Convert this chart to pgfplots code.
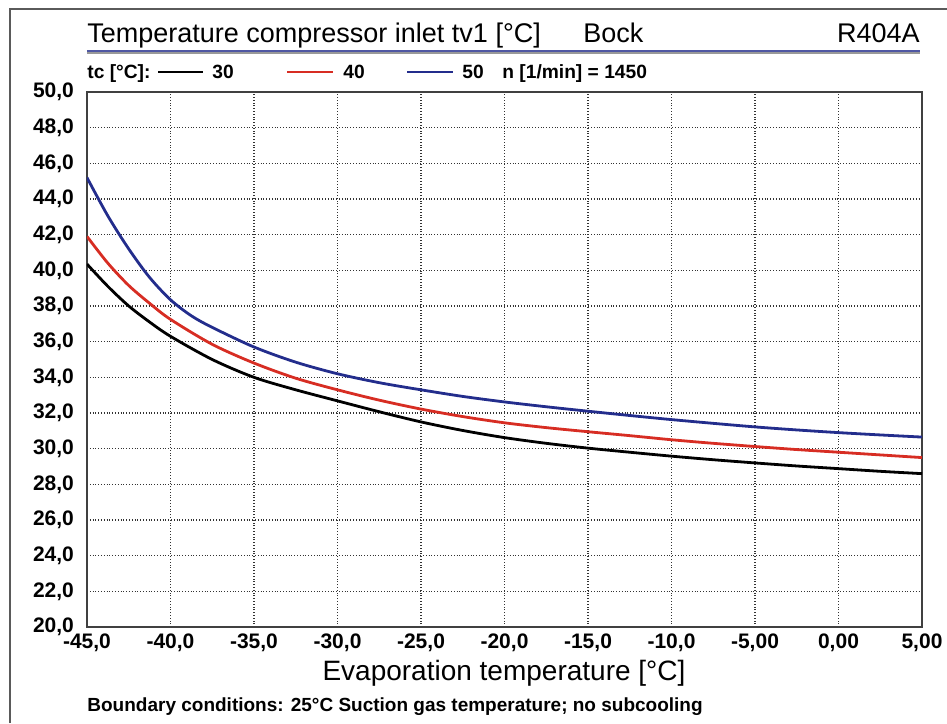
\documentclass[border=0pt]{standalone}
\usepackage{fontspec}
\setmainfont{Liberation Sans}
\usepackage{pgfplots}
\pgfplotsset{compat=1.18}

\definecolor{cred}{RGB}{215,45,35}
\definecolor{cblue}{RGB}{35,45,140}
\definecolor{frame}{RGB}{90,90,90}

\begin{document}
\begin{tikzpicture}[x=1pt,y=1pt]
\path[use as bounding box] (-43.5,-48) rectangle (430,313.5);
% outer frame (left and top only visible)
\draw[frame, line width=1.4pt] (-38.5,-48) -- (-38.5,309) -- (430,309);

\begin{axis}[
  at={(0,0)}, anchor=south west, scale only axis,
  width=417.5pt, height=267.5pt,
  xmin=-45, xmax=5, ymin=20, ymax=50,
  xtick={-45,-40,...,5}, ytick={20,22,...,50},
  xticklabels={{-45,0},{-40,0},{-35,0},{-30,0},{-25,0},{-20,0},{-15,0},{-10,0},{-5,00},{0,00},{5,00}},
  yticklabels={{20,0},{22,0},{24,0},{26,0},{28,0},{30,0},{32,0},{34,0},{36,0},{38,0},{40,0},{42,0},{44,0},{46,0},{48,0},{50,0}},
  grid=major, grid style={densely dotted, black!80, line width=0.6pt},
  axis line style={black!75, line width=0.9pt},
  major tick length=0pt,
  tick label style={font=\fontsize{10.5}{12}\selectfont\bfseries},
  yticklabel style={xshift=-3pt},
]
% tc = 30
\addplot[black, line width=1.4pt, smooth] coordinates {
  (-45,40.35) (-43.75,39.1) (-42.5,38.0) (-41.25,37.1) (-40,36.3) (-37.5,35.0) (-35,34.0) (-32.5,33.3)
  (-30,32.68) (-27.5,32.07) (-25,31.5) (-22.5,31.02) (-20,30.62) (-17.5,30.3) (-15,30.03)
  (-12.5,29.8) (-10,29.58) (-7.5,29.38) (-5,29.2) (-2.5,29.03) (0,28.88) (2.5,28.73) (5,28.6)};
% tc = 40
\addplot[cred, line width=1.4pt, smooth] coordinates {
  (-45,41.9) (-43.75,40.4) (-42.5,39.15) (-41.25,38.15) (-40,37.25) (-37.5,35.85) (-35,34.8) (-32.5,33.95)
  (-30,33.3) (-27.5,32.72) (-25,32.22) (-22.5,31.8) (-20,31.45) (-17.5,31.18) (-15,30.95)
  (-12.5,30.73) (-10,30.5) (-7.5,30.3) (-5,30.12) (-2.5,29.95) (0,29.8) (2.5,29.65) (5,29.5)};
% tc = 50
\addplot[cblue, line width=1.4pt, smooth] coordinates {
  (-45,45.2) (-43.75,43.05) (-42.5,41.2) (-41.25,39.6) (-40,38.35) (-38.75,37.45) (-37.5,36.8) (-35,35.7) (-32.5,34.85)
  (-30,34.2) (-27.5,33.7) (-25,33.3) (-22.5,32.93) (-20,32.62) (-17.5,32.35) (-15,32.1)
  (-12.5,31.86) (-10,31.63) (-7.5,31.42) (-5,31.22) (-2.5,31.05) (0,30.9) (2.5,30.77) (5,30.65)};
\end{axis}

% title
\node[anchor=base west, inner sep=0, font=\fontsize{13.5}{15}\selectfont] at (0,292) {Temperature compressor inlet tv1 [°C]};
\node[anchor=base west, inner sep=0, font=\fontsize{13.5}{15}\selectfont] at (248,292) {Bock};
\node[anchor=base east, inner sep=0, font=\fontsize{13.5}{15}\selectfont] at (416.5,292) {R404A};
\draw[cblue!80, line width=0.7pt] (0,288) -- (416.5,288);
\draw[black!40, line width=0.6pt] (0,287) -- (416.5,287);

% legend row
\begin{scope}[font=\fontsize{9.6}{11}\selectfont\bfseries]
\node[anchor=base west, inner sep=0] at (0,274) {tc [°C]:};
\draw[black, line width=0.9pt] (35.5,277.5) -- (58,277.5);
\node[anchor=base west, inner sep=0] at (62.5,274) {30};
\draw[cred, line width=0.9pt] (100,277.5) -- (123,277.5);
\node[anchor=base west, inner sep=0] at (128,274) {40};
\draw[cblue, line width=0.9pt] (160,277.5) -- (183,277.5);
\node[anchor=base west, inner sep=0] at (187.5,274) {50};
\node[anchor=base west, inner sep=0] at (207.5,274) {n [1/min] = 1450};
\end{scope}

% axis label and note
\node[anchor=base, inner sep=0, font=\fontsize{14}{16}\selectfont] at (208.5,-26.5) {Evaporation temperature [°C]};
\node[anchor=base west, inner sep=0, font=\fontsize{9.5}{11}\selectfont\bfseries] at (0,-42) {Boundary conditions: 25°C Suction gas temperature; no subcooling};
\end{tikzpicture}
\end{document}
